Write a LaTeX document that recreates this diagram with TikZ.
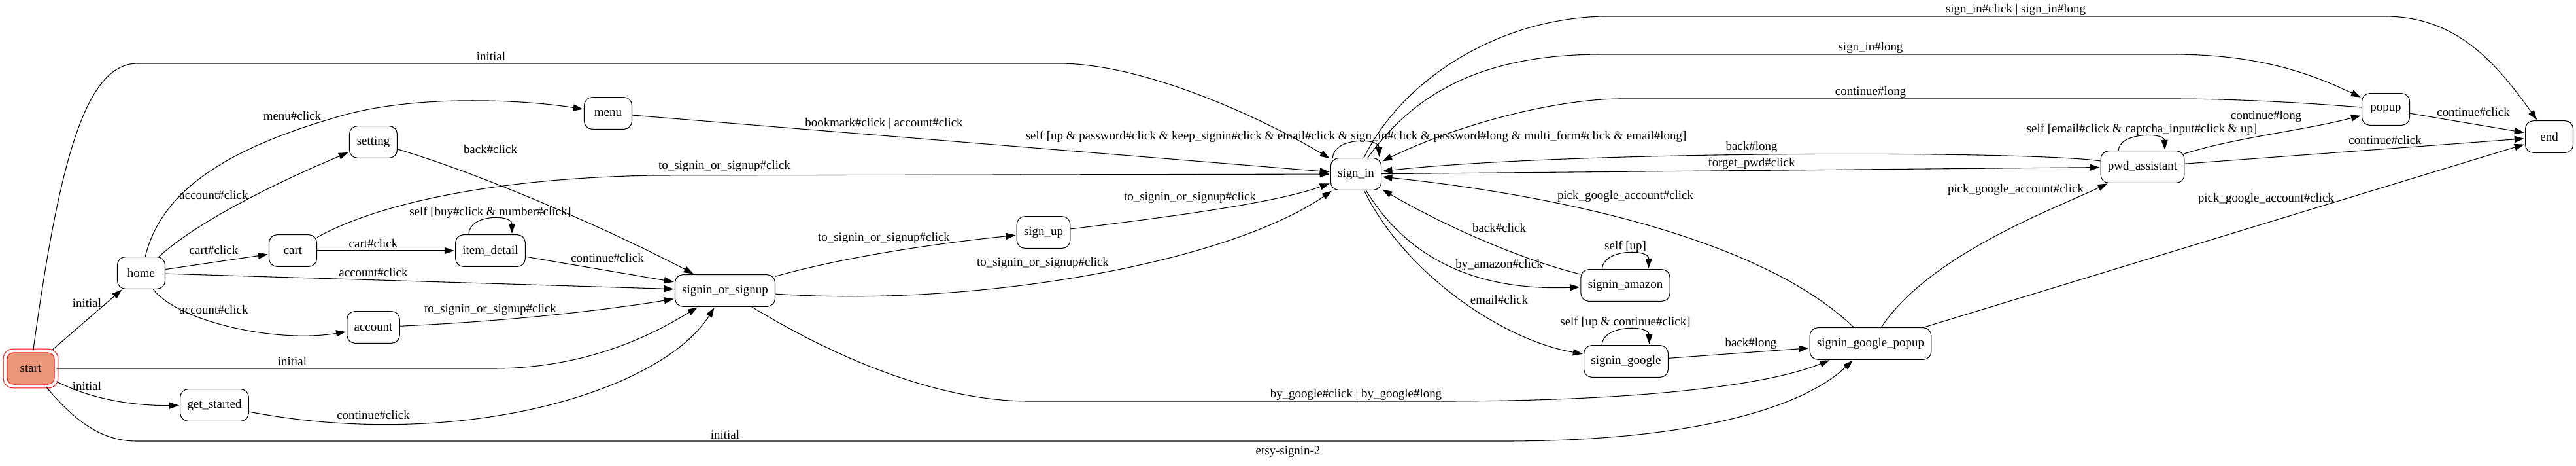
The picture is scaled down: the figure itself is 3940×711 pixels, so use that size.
\documentclass[tikz,border=0pt]{standalone}
\usepackage{fontspec}
\setmainfont{Liberation Serif}
\usetikzlibrary{arrows.meta}
\definecolor{startfill}{RGB}{233,150,122}

\begin{document}
\begin{tikzpicture}[x=0.74pt,y=-0.74pt,thick,>={Triangle[length=11pt,width=7.5pt]},
  state node/.style={draw,rounded corners=9pt,minimum width=54pt,minimum height=36pt,inner xsep=8pt,font=\fontsize{14}{16}\selectfont},
  start node/.style={state node,draw=red,fill=startfill,double=white,double distance=3.5pt,minimum width=57.7pt,minimum height=40pt},
  edge label/.style={font=\fontsize{14}{16}\selectfont,inner sep=1pt}]

	\useasboundingbox (0,0) rectangle (3940,711);

	\node[start node] (start) at (47,563) {start};
	\node[state node] (home) at (216,417) {home};
	\node[state node] (setting) at (571,217) {setting};
	\node[state node] (menu) at (930,173) {menu};
	\node[state node] (cart) at (448,383) {cart};
	\node[state node] (item) at (750,383) {item\_detail};
	\node[state node] (account) at (571,500) {account};
	\node[state node] (started) at (328,619) {get\_started};
	\node[state node] (choose) at (1109,444) {signin\_or\_signup};
	\node[state node] (signup) at (1596,355) {sign\_up};
	\node[state node] (signin) at (2074,266) {sign\_in};
	\node[state node] (amazon) at (2486,436) {signin\_amazon};
	\node[state node] (google) at (2487,552) {signin\_google};
	\node[state node] (gpopup) at (2861,525) {signin\_google\_popup};
	\node[state node] (pwd) at (3277,255) {pwd\_assistant};
	\node[state node] (popup) at (3649,167) {popup};
	\node[state node] (end) at (3899,209) {end};

	\node[edge label] (title) at (1970,690) {etsy-signin-2};

	\begin{scope}[->,shorten >=1pt,every node/.style={edge label}]
	% from start
	\draw (start) -- (home) node at (133,463) {initial};
	\draw (start) .. controls (90,250) and (130,97) .. (210,97) -- (1620,97) .. controls (1750,97) and (1930,180) .. (signin) node at (751,86) {initial};
	\draw (start) -- (753,563) .. controls (900,563) and (1000,510) .. (choose) node at (447,552) {initial};
	\draw (start) .. controls (150,615) and (220,620) .. (started) node at (133,590) {initial};
	\draw (start) .. controls (120,650) and (160,674) .. (210,674) -- (2300,674) .. controls (2600,674) and (2760,620) .. (gpopup) node at (1109,664) {initial};

	% from home
	\draw (home) .. controls (245,300) and (330,230) .. (529,175) .. controls (640,145) and (800,152) .. (menu) node at (447,177) {menu\#click};
	\draw (home) .. controls (300,340) and (420,280) .. (setting) node at (327,298) {account\#click};
	\draw (home) -- (cart) node at (327,382) {cart\#click};
	\draw (home) -- (choose) node at (571,416) {account\#click};
	\draw (home) .. controls (270,490) and (420,525) .. (account) node at (327,473) {account\#click};

	% into signin_or_signup
	\draw (setting) .. controls (750,270) and (950,360) .. (choose) node at (750,228) {back\#click};
	\draw (menu) -- (signin) node at (1352,189) {bookmark\#click | account\#click};
	\draw (cart) -- (item) node at (571,372) {cart\#click};
	\draw (cart) .. controls (580,310) and (760,272) .. (1000,268) -- (signin) node at (1108,254) {to\_signin\_or\_signup\#click};
	\draw (item.143) .. controls (717,327) and (783,327) .. (item.37) node at (750,325) {self [buy\#click \& number\#click]};
	\draw (item) -- (choose) node at (929,394) {continue\#click};
	\draw (account) .. controls (800,490) and (950,470) .. (choose) node at (750,473) {to\_signin\_or\_signup\#click};
	\draw (started) .. controls (700,690) and (1010,600) .. (choose) node at (571,634) {continue\#click};

	% from signin_or_signup
	\draw (choose) .. controls (1300,390) and (1450,370) .. (signup) node at (1352,364) {to\_signin\_or\_signup\#click};
	\draw (choose) .. controls (1500,470) and (1880,400) .. (signin) node at (1595,402) {to\_signin\_or\_signup\#click};
	\draw (choose) .. controls (1300,560) and (1450,613) .. (1574,613) -- (2203,613) .. controls (2500,613) and (2700,590) .. (gpopup) node at (2074,603) {by\_google\#click | by\_google\#long};
	\draw (signup) .. controls (1800,330) and (1950,310) .. (signin) node at (1820,302) {to\_signin\_or\_signup\#click};

	% around sign_in
	\draw (signin.145) .. controls (2039,210) and (2109,210) .. (signin.35) node at (2074,209) {self [up \& password\#click \& keep\_signin\#click \& email\#click \& sign\_in\#click \& password\#long \& multi\_form\#click \& email\#long]};
	\draw (signin) .. controls (2140,130) and (2280,30) .. (2450,25) -- (3648,25) .. controls (3760,25) and (3820,100) .. (end) node at (3083,15) {sign\_in\#click | sign\_in\#long};
	\draw (signin) .. controls (2165,140) and (2270,83) .. (2450,83) -- (3323,83) .. controls (3450,83) and (3530,110) .. (popup) node at (2861,73) {sign\_in\#long};
	\draw (popup) .. controls (3500,155) and (3400,151) .. (3323,151) -- (2480,151) .. controls (2380,151) and (2230,190) .. (signin) node at (2861,141) {continue\#long};
	\draw (pwd) .. controls (3100,230) and (2400,230) .. (signin) node at (2679,225) {back\#long};
	\draw (signin) -- (pwd) node at (2679,250) {forget\_pwd\#click};
	\draw (gpopup) .. controls (2700,370) and (2400,300) .. (signin) node at (2486,300) {pick\_google\_account\#click};
	\draw (amazon) .. controls (2320,395) and (2200,340) .. (signin) node at (2293,348) {back\#click};
	\draw (signin) .. controls (2150,390) and (2250,445) .. (amazon) node at (2293,405) {by\_amazon\#click};
	\draw (amazon.145) .. controls (2451,380) and (2522,380) .. (amazon.35) node at (2486,377) {self [up]};
	\draw (signin) .. controls (2150,420) and (2300,520) .. (google) node at (2293,458) {email\#click};
	\draw (google.146) .. controls (2451,496) and (2522,496) .. (google.35) node at (2486,493) {self [up \& continue\#click]};
	\draw (google) -- (gpopup) node at (2678,525) {back\#long};

	% towards end
	\draw (gpopup) .. controls (2950,390) and (3140,320) .. (pwd) node at (3083,290) {pick\_google\_account\#click};
	\draw (gpopup) -- (end) node at (3466,304) {pick\_google\_account\#click};
	\draw (pwd.146) .. controls (3241,202) and (3310,202) .. (pwd.36) node at (3276,198) {self [email\#click \& captcha\_input\#click \& up]};
	\draw (pwd) .. controls (3420,210) and (3520,200) .. (popup) node at (3466,178) {continue\#long};
	\draw (pwd) -- (end) node at (3648,214) {continue\#click};
	\draw (popup) -- (end) node at (3783,171) {continue\#click};
	\end{scope}
\end{tikzpicture}
\end{document}
